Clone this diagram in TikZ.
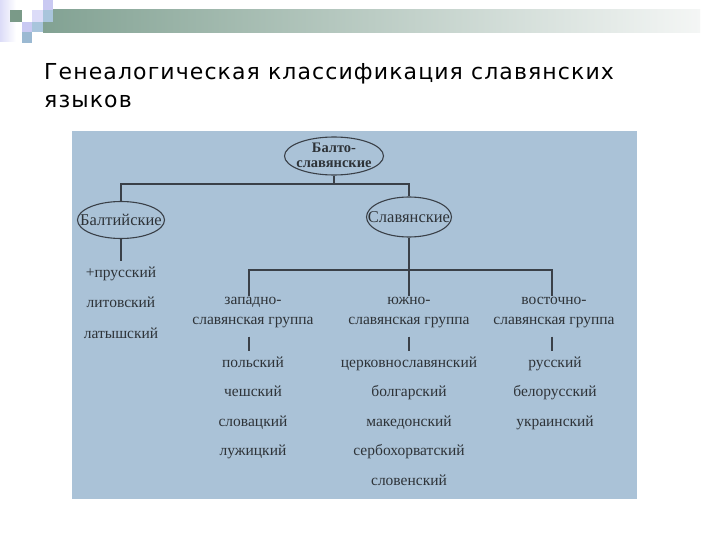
\documentclass[tikz,border=0pt]{standalone}
\usepackage{fontspec}
\setmainfont{Liberation Serif}
\newfontfamily\titlefont[LetterSpace=5]{DejaVu Sans}
\usetikzlibrary{shapes.geometric}
\definecolor{boxbg}{HTML}{AAC2D7}
\definecolor{ink}{HTML}{2E3338}
\definecolor{lineclr}{HTML}{3A4048}
\definecolor{darkgreen}{HTML}{7A9A88}
\definecolor{barL}{HTML}{82A293}
\definecolor{barR}{HTML}{F4F6F5}
\definecolor{lav}{HTML}{C9C9F2}
\definecolor{lavlight}{HTML}{DCDCF8}
\definecolor{bluelight}{HTML}{A9C5DC}
\definecolor{bluemid}{HTML}{9BB9D2}
\tikzset{
  ell/.style={ellipse, draw=lineclr, line width=1.1pt, inner sep=0pt},
  conn/.style={draw=lineclr, line width=1.1pt},
  lang/.style={font=\fontsize{15.5}{16}\selectfont, text=ink, inner sep=1pt, anchor=base, text height=15pt},
  grp/.style={font=\fontsize{15.5}{20}\selectfont, text=ink, align=center, inner sep=1pt},
  elltext/.style={font=\fontsize{16.5}{16.5}\selectfont, text=ink, inner sep=0pt},
}
\begin{document}
\begin{tikzpicture}[x=1pt,y=-1pt]
\useasboundingbox (0,0) rectangle (720,540);
\fill[white] (0,0) rectangle (720,540);
% decoration
\shade[left color=lavlight, right color=white] (0,0) rectangle (16,42);
\shade[left color=barL, right color=barR] (43,10) rectangle (700,33);
\fill[darkgreen] (10,10) rectangle (22,22);
\fill[lavlight] (32,10) rectangle (43,22);
\fill[lav] (43,0) rectangle (53,10);
\fill[bluelight] (43,10) rectangle (53,22);
\fill[lav] (22,22) rectangle (32,32);
\fill[bluelight] (32,22) rectangle (43,32);
\fill[bluemid] (22,32) rectangle (32,43);
% title
\node[anchor=base west, font=\titlefont\fontsize{22}{24}\selectfont, text=black, inner sep=0pt] (t1) at (44,80) {Генеалогическая классификация славянских};
\node[anchor=base west, font=\titlefont\fontsize{22}{24}\selectfont, text=black, inner sep=0pt] (t2) at (44,108) {языков};
% photo background
\fill[boxbg] (72,131) rectangle (637,499);
% ellipses
\node[ell, minimum width=99, minimum height=38] (top) at (334,156) {};
\node[elltext, font=\bfseries\fontsize{14.5}{15}\selectfont, align=center] (toplbl) at (334,155) {Балто-\\славянские};
\node[ell, minimum width=87, minimum height=37] (balt) at (121,220) {};
\node[elltext] (baltlbl) at (balt.center) {Балтийские};
\node[ell, minimum width=85, minimum height=40] (slav) at (409,217) {};
\node[elltext] (slavlbl) at (slav.center) {Славянские};
\coordinate (j1) at (334,184);
\draw[conn] (top.south) -- (j1);
\draw[conn] (balt.north) -- (balt.north |- j1) -- (slav.north |- j1) -- (slav.north);
% baltic languages
\foreach \t [count=\i] in {+прусский,литовский,латышский}
  \node[lang] (b\i) at (121,{246.5+30.5*\i}) {\t};
\draw[conn] (balt.south) -- (b1.north);
% groups
\node[grp] (west) at (253,313) {западно-\\славянская группа};
\node[grp] (south) at (409,313) {южно-\\славянская группа};
\node[grp] (east) at (554,313) {восточно-\\славянская группа};
\coordinate (j2) at (409,270);
\draw[conn] (slav.south) -- (south.north);
\draw[conn] (west.north -| 249,0) -- (249,270) -- (552,270) -- (east.north -| 552,0);
% languages
\foreach \t [count=\i] in {польский,чешский,словацкий,лужицкий}
  \node[lang] (w\i) at (253,{337.5+29.5*\i}) {\t};
\foreach \t [count=\i] in {церковнославянский,болгарский,македонский,сербохорватский,словенский}
  \node[lang] (s\i) at (409,{337.5+29.5*\i}) {\t};
\foreach \t [count=\i] in {русский,белорусский,украинский}
  \node[lang] (e\i) at (555,{337.5+29.5*\i}) {\t};
\draw[conn, shorten <=7pt] (west.south -| 249,0) -- (w1.north -| 249,0);
\draw[conn, shorten <=7pt] (south.south) -- (s1.north);
\draw[conn, shorten <=7pt] (east.south -| 552,0) -- (e1.north -| 552,0);
\end{tikzpicture}
\end{document}
